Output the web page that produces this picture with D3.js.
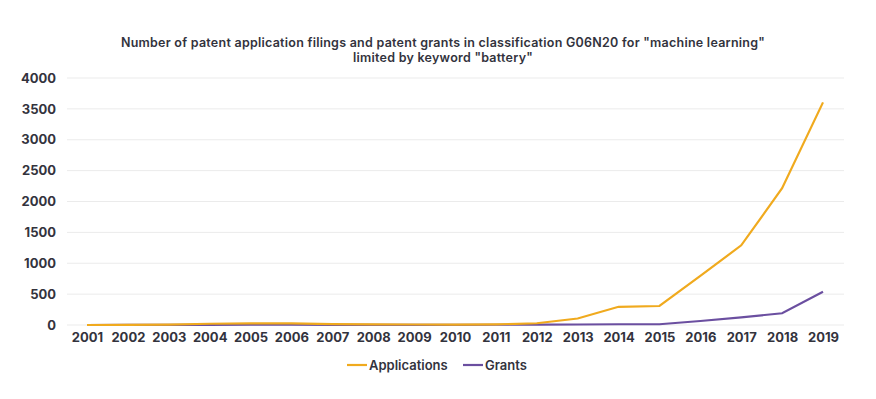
<!DOCTYPE html>
<html>
<head>
<meta charset="utf-8">
<script src="https://cdn.jsdelivr.net/npm/d3@7"></script>
<style>
  body { margin: 0; background: #fff; }
  svg text { font-family: "Inter", "Lato", sans-serif; fill: #33333d; }
</style>
</head>
<body>
<svg class="s"></svg>
<script>
var years = ['2001','2002','2003','2004','2005','2006','2007','2008','2009','2010',
             '2011','2012','2013','2014','2015','2016','2017','2018','2019'];
var applications = [0, 2, 5, 20, 25, 25, 15, 10, 8, 5, 10, 28, 105, 295, 308, 795, 1290, 2215, 3605];
var grants = [0, 1, 2, 3, 4, 4, 3, 3, 3, 3, 4, 5, 8, 12, 12, 65, 125, 190, 540];
var yTicks = [0, 500, 1000, 1500, 2000, 2500, 3000, 3500, 4000];
var titleLines = ['Number of patent application filings and patent grants in classification G06N20 for "machine learning"',
                  'limited by keyword "battery"'];

var w = 876;
var h = 399;

var svg = d3.select('.s')
            .attr('width', w)
            .attr('height', h);

var x = d3.scalePoint()
          .domain(years)
          .range([87, 823]);

var y = d3.scaleLinear()
          .domain([0, 4000])
          .range([325, 78]);

// gridlines
svg.append('g')
   .selectAll('line')
   .data(yTicks)
   .enter()
   .append('line')
   .attr('x1', 67)
   .attr('x2', 844)
   .attr('y1', function(d){ return y(d); })
   .attr('y2', function(d){ return y(d); })
   .attr('stroke', '#ebebeb')
   .attr('stroke-width', 1);

var yAxis = svg.append('g')
   .attr('transform', 'translate(56,0)')
   .call(d3.axisLeft(y).tickValues(yTicks).tickFormat(d3.format('d')).tickSize(0).tickPadding(0));
yAxis.select('.domain').remove();
yAxis.selectAll('text')
   .attr('font-size', 13)
   .attr('font-weight', 700)
   .style('font-family', '"Inter", sans-serif')
   .attr('fill', '#33333d');

var xAxis = svg.append('g')
   .attr('transform', 'translate(0,333)')
   .call(d3.axisBottom(x).tickSize(0).tickPadding(0));
xAxis.select('.domain').remove();
xAxis.selectAll('text')
   .attr('font-size', 13)
   .attr('font-weight', 700)
   .attr('dy', '0.71em')
   .attr('fill', '#33333d');

var line = d3.line()
             .x(function(d, i){ return x(years[i]); })
             .y(function(d){ return y(d); });

svg.append('path')
   .datum(grants)
   .attr('d', line)
   .attr('fill', 'none')
   .attr('stroke', '#6b4fa0')
   .attr('stroke-width', 2.2);

svg.append('path')
   .datum(applications)
   .attr('d', line)
   .attr('fill', 'none')
   .attr('stroke', '#f0aa1e')
   .attr('stroke-width', 2.2);

// title
svg.append('g')
   .selectAll('text')
   .data(titleLines)
   .enter()
   .append('text')
   .attr('x', 443)
   .attr('y', function(d, i){ return 47 + i * 15; })
   .attr('text-anchor', 'middle')
   .attr('font-size', 12.5)
   .attr('letter-spacing', 0.25)
   .attr('font-weight', 600)
   .text(function(d){ return d; });

// legend
var legendItems = [
  {name: 'Applications', color: '#f0aa1e', x: 347},
  {name: 'Grants', color: '#6b4fa0', x: 463}
];
var legend = svg.append('g')
   .selectAll('g')
   .data(legendItems)
   .enter()
   .append('g')
   .attr('transform', function(d){ return 'translate(' + d.x + ',365)'; });
legend.append('line')
   .attr('x1', 0).attr('x2', 20)
   .attr('stroke', function(d){ return d.color; })
   .attr('stroke-width', 2.2);
legend.append('text')
   .attr('x', 22)
   .attr('dy', '0.35em')
   .attr('font-size', 13)
   .attr('font-weight', 600)
   .text(function(d){ return d.name; });
</script>
</body>
</html>
